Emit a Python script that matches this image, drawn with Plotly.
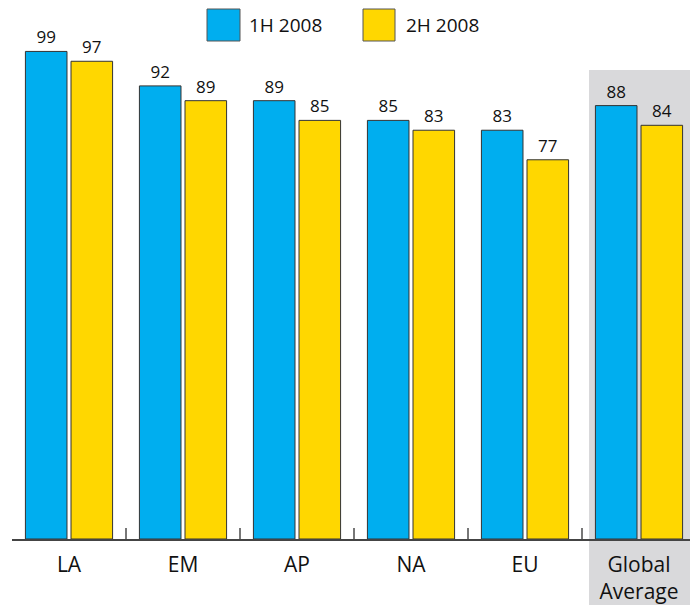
import plotly.graph_objects as go

categories = ["LA", "EM", "AP", "NA", "EU", "Global<br>Average"]
h1_2008 = [99, 92, 89, 85, 83, 88]
h2_2008 = [97, 89, 85, 83, 77, 84]
series_names = ["1H 2008", "2H 2008"]

BLUE = "#00AEEF"
YELLOW = "#FFD700"
EDGE = "#333333"
FONT = "Open Sans"

W, H = 690, 605
ML, MR, MT, MB = 12, 0, 30, 66
PW, PH = W - ML - MR, H - MT - MB

def px_x(px):
    return (px - ML) / PW

def px_y(py):
    return (H - MB - py) / PH

fig = go.Figure()
for name, vals, col in [(series_names[0], h1_2008, BLUE), (series_names[1], h2_2008, YELLOW)]:
    fig.add_trace(go.Bar(
        x=categories, y=vals, name=name,
        marker=dict(color=col, line=dict(color=EDGE, width=1)),
        text=vals, texttemplate="%{y}", textposition="outside",
        textfont=dict(size=17, color="#111111", family=FONT),
        cliponaxis=False, showlegend=False,
    ))

shapes = [
    # gray highlight band behind "Global Average"
    dict(type="rect", xref="paper", yref="paper",
         x0=px_x(589), x1=1.0, y0=px_y(605), y1=px_y(70),
         fillcolor="#D9D9DB", line=dict(width=0), layer="below"),
    # legend swatches
    dict(type="rect", xref="paper", yref="paper",
         x0=px_x(207), x1=px_x(240), y0=px_y(41), y1=px_y(9),
         fillcolor=BLUE, line=dict(color="#555555", width=1)),
    dict(type="rect", xref="paper", yref="paper",
         x0=px_x(363), x1=px_x(395), y0=px_y(41), y1=px_y(9),
         fillcolor=YELLOW, line=dict(color="#555555", width=1)),
]
annotations = [
    dict(text=series_names[0], xref="paper", yref="paper", x=px_x(247), y=px_y(25),
         xanchor="left", yanchor="middle", showarrow=False,
         font=dict(size=19, color="#111111", family=FONT)),
    dict(text=series_names[1], xref="paper", yref="paper", x=px_x(404), y=px_y(25),
         xanchor="left", yanchor="middle", showarrow=False,
         font=dict(size=19, color="#111111", family=FONT)),
]

fig.update_layout(
    width=W, height=H,
    margin=dict(l=ML, r=MR, t=MT, b=MB, pad=0),
    paper_bgcolor="white", plot_bgcolor="rgba(0,0,0,0)",
    barmode="group", bargap=0.2, bargroupgap=0.088,
    shapes=shapes, annotations=annotations,
    font=dict(family=FONT, color="#111111"),
)
fig.update_xaxes(
    range=[-0.5, -0.5 + PW / 114.0],
    showline=True, linecolor="#444444", linewidth=1.5,
    ticks="inside", tickson="boundaries", ticklen=11, tickwidth=1.5, tickcolor="#777777",
    tickfont=dict(size=21, color="#111111", family=FONT),
    ticklabelstandoff=6,
    showgrid=False, zeroline=False,
)
fig.update_yaxes(
    range=[0, PH / 4.925], visible=False, showgrid=False, zeroline=False,
)

fig.write_html("out.html")
